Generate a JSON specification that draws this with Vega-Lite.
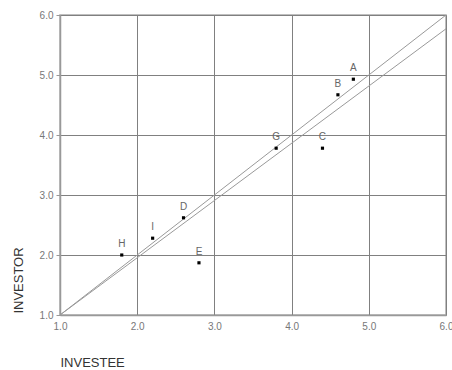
{
  "$schema": "https://vega.github.io/schema/vega-lite/v6.json",
  "autosize": {"type": "none"},
  "padding": {"left": 60, "top": 15, "right": 6, "bottom": 55},
  "width": 386,
  "height": 300,
  "background": "white",
  "config": {
    "font": "Liberation Sans",
    "view": {"stroke": "#aaaaaa", "strokeWidth": 1.5},
    "axis": {
      "labelFont": "Liberation Sans",
      "titleFont": "Liberation Sans",
      "labelFontSize": 10,
      "labelColor": "#777777",
      "titleFontSize": 13,
      "titleFontWeight": "normal",
      "titleColor": "#333333",
      "gridColor": "#808080",
      "gridOpacity": 1,
      "gridWidth": 1,
      "domainColor": "#999999",
      "domainWidth": 1.5,
      "tickColor": "#999999"
    }
  },
  "datasets": {
    "lines": [
      {"series": "a", "x": 1.0, "y": 1.0},
      {"series": "a", "x": 6.0, "y": 6.0},
      {"series": "b", "x": 1.0, "y": 1.0},
      {"series": "b", "x": 6.0, "y": 5.77}
    ],
    "pts": [
      {"label": "A", "x": 4.8, "y": 4.93},
      {"label": "B", "x": 4.6, "y": 4.67},
      {"label": "C", "x": 4.4, "y": 3.78},
      {"label": "D", "x": 2.6, "y": 2.62},
      {"label": "E", "x": 2.8, "y": 1.87},
      {"label": "G", "x": 3.8, "y": 3.78},
      {"label": "H", "x": 1.8, "y": 2.0},
      {"label": "I", "x": 2.2, "y": 2.28}
    ]
  },
  "encoding": {
    "x": {
      "field": "x", "type": "quantitative",
      "scale": {"domain": [1, 6], "nice": false, "zero": false},
      "axis": {
        "values": [1, 2, 3, 4, 5, 6], "format": ".1f", "title": "INVESTEE",
        "tickSize": 0, "labelPadding": 6, "labelFlush": false,
        "titleX": 0, "titleY": 51, "titleAlign": "left", "titleBaseline": "alphabetic"
      }
    },
    "y": {
      "field": "y", "type": "quantitative",
      "scale": {"domain": [1, 6], "nice": false, "zero": false},
      "axis": {
        "values": [1, 2, 3, 4, 5, 6], "format": ".1f", "title": "INVESTOR",
        "tickSize": 4, "labelPadding": 3, "labelFlush": false,
        "titleX": -42, "titleY": 265, "titleAlign": "center", "titleBaseline": "middle", "titleAngle": -90
      }
    }
  },
  "layer": [
    {
      "data": {"name": "lines"},
      "mark": {"type": "line", "color": "#999999", "strokeWidth": 1, "clip": true},
      "encoding": {"detail": {"field": "series", "type": "nominal"}}
    },
    {
      "data": {"name": "pts"},
      "mark": {"type": "square", "color": "black", "filled": true, "size": 10, "opacity": 1}
    },
    {
      "data": {"name": "pts"},
      "mark": {"type": "text", "dy": -11, "fontSize": 10, "color": "#666666", "font": "Liberation Sans"},
      "encoding": {"text": {"field": "label"}}
    }
  ]
}
